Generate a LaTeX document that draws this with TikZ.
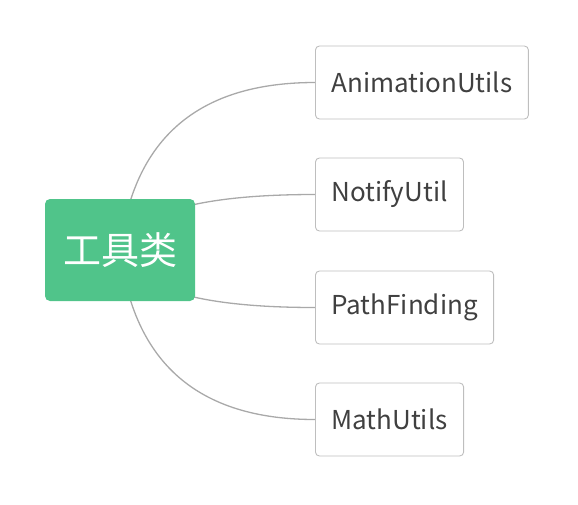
\documentclass[tikz,border=0pt]{standalone}
\usepackage{fontspec}
\setmainfont{Noto Sans CJK SC}
\usetikzlibrary{calc}
\usetikzlibrary{backgrounds}
\definecolor{rootgreen}{HTML}{50C48A}
\definecolor{leafline}{HTML}{BEBEBE}
\definecolor{leaftext}{HTML}{404040}
\definecolor{branchgray}{HTML}{A9A9A9}
\tikzset{
  root/.style={fill=rootgreen,rounded corners=5pt,minimum width=150pt,minimum height=102pt,
    text=white,font=\fontsize{38}{40}\selectfont,inner sep=0pt},
  leaf/.style={draw=leafline,line width=0.9pt,rounded corners=4pt,minimum height=73pt,
    inner xsep=16pt,text=leaftext,font=\fontsize{26}{30}\selectfont,anchor=west},
  branch/.style={draw=branchgray,line width=1.3pt}
}

\begin{document}
\begin{tikzpicture}[x=1pt,y=-1pt]
  \useasboundingbox (0,0) rectangle (578,504);
  \node[root](tools) at (120,250) {工具类};
  \node[leaf](anim) at (315,82.5) {AnimationUtils};
  \node[leaf](notify) at (315,194.5) {NotifyUtil};
  \node[leaf](path) at (315,307.5) {PathFinding};
  \node[leaf](math) at (315,419.5) {MathUtils};
  \begin{scope}[on background layer]
    \foreach \leafname in {anim,notify,path,math}{
      \coordinate (ctrl) at ([xshift=20pt]tools.center |- \leafname.west);
      \draw[branch] (tools.center) .. controls ($(tools.center)!0.667!(ctrl)$)
        and ($(\leafname.west)!0.667!(ctrl)$) .. (\leafname.west);
    }
  \end{scope}
\end{tikzpicture}
\end{document}
